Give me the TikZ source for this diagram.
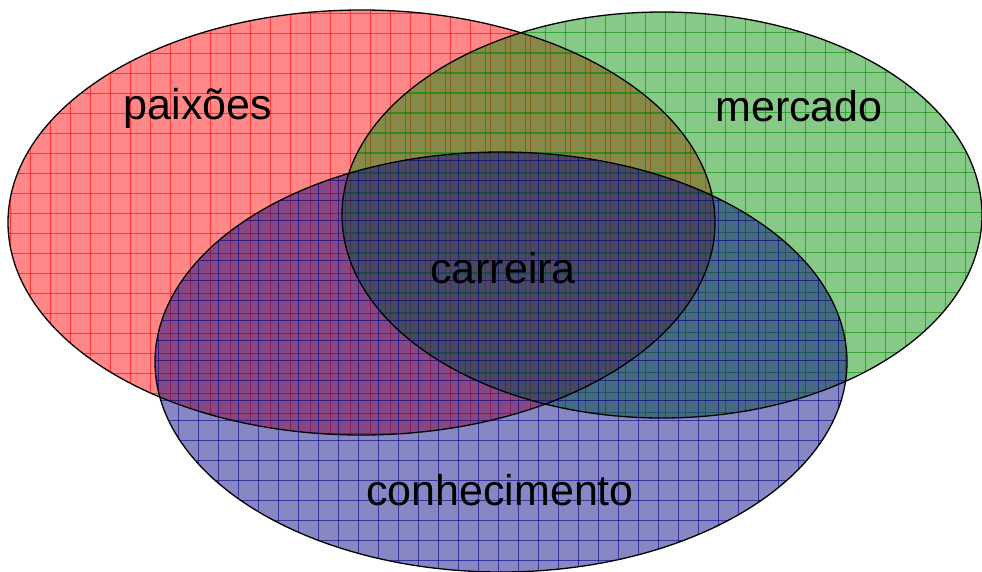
\documentclass[tikz,border=0pt]{standalone}
\usepackage{fontspec}
\setmainfont{Liberation Sans}
\definecolor{rA}{RGB}{255,0,0}
\definecolor{gA}{RGB}{0,140,0}
\definecolor{bA}{RGB}{0,0,128}
\tikzset{
  setfill/.style={fill opacity=0.47},
  gridline/.style={line width=0.9pt, opacity=0.6},
  outline/.style={draw=black, line width=1.3pt},
  lab/.style={font=\fontsize{43}{50}\selectfont, text=black, inner sep=0pt}
}
\begin{document}
\begin{tikzpicture}[x=1pt,y=-1pt]
\useasboundingbox (0,0) rectangle (982,571);
\coordinate (cR) at (361.5,222.5);
\coordinate (cG) at (662,215);
\coordinate (cB) at (501,362);
% red
\begin{scope}
  \clip (cR) ellipse [x radius=353.5, y radius=212.5];
  \fill[rA, setfill] (cR) ellipse [x radius=353.5, y radius=212.5];
  \foreach \i in {0,...,50} {\draw[rA, gridline] (10+20*\i,0) -- (10+20*\i,571);}
  \foreach \i in {0,...,29} {\draw[rA, gridline] (0,13+20*\i) -- (982,13+20*\i);}
\end{scope}
% green
\begin{scope}
  \clip (cG) ellipse [x radius=320, y radius=203];
  \fill[gA, setfill] (cG) ellipse [x radius=320, y radius=203];
  \foreach \i in {0,...,50} {\draw[gA, gridline] (5+20*\i,0) -- (5+20*\i,571);}
  \foreach \i in {0,...,29} {\draw[gA, gridline] (0,12+20*\i) -- (982,12+20*\i);}
\end{scope}
% blue
\begin{scope}
  \clip (cB) ellipse [x radius=346, y radius=210];
  \fill[bA, setfill] (cB) ellipse [x radius=346, y radius=210];
  \foreach \i in {0,...,50} {\draw[bA, gridline] (18+20*\i,0) -- (18+20*\i,571);}
  \foreach \i in {0,...,29} {\draw[bA, gridline] (0,20*\i) -- (982,20*\i);}
\end{scope}
\draw[outline] (cR) ellipse [x radius=353.5, y radius=212.5];
\draw[outline] (cG) ellipse [x radius=320, y radius=203];
\draw[outline] (cB) ellipse [x radius=346, y radius=210];
\node[lab] (tP) at (198,108) {paixões};
\node[lab] (tM) at (799,106) {mercado};
\node[lab] (tC) at (503,268) {carreira};
\node[lab] (tK) at (500,490) {conhecimento};
\end{tikzpicture}
\end{document}
